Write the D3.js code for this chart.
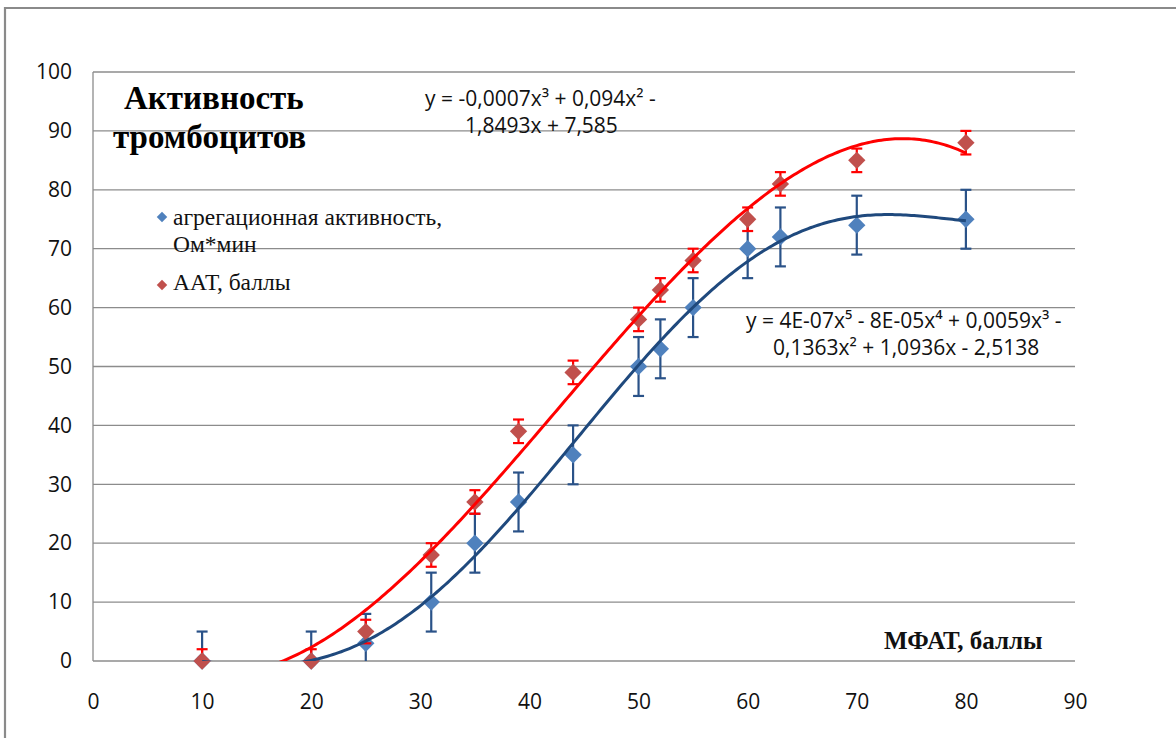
<!DOCTYPE html>
<html><head><meta charset="utf-8">
<script src="https://cdn.jsdelivr.net/npm/d3@7"></script>
<style>body{margin:0;background:#fff}svg{display:block}</style>
</head><body>
<svg id="chart" width="1176" height="738"></svg>
<script>
// ---- data ----
const xValues   = [10, 20, 25, 31, 35, 39, 44, 50, 52, 55, 60, 63, 70, 80];
const aggValues = [0, 0, 3, 10, 20, 27, 35, 50, 53, 60, 70, 72, 74, 75];
const aggErrors = [5, 5, 5, 5, 5, 5, 5, 5, 5, 5, 5, 5, 5, 5];
const aatValues = [0, 0, 5, 18, 27, 39, 49, 58, 63, 68, 75, 81, 85, 88];
const aatErrors = [2, 2, 2, 2, 2, 2, 2, 2, 2, 2, 2, 2, 2, 2];
const xTicks = [0, 10, 20, 30, 40, 50, 60, 70, 80, 90];
const yTicks = [0, 10, 20, 30, 40, 50, 60, 70, 80, 90, 100];
const seriesNames = ["агрегационная активность,", "Ом*мин", "ААТ, баллы"];
const titleLines = ["Активность", "тромбоцитов"];
const xAxisTitle = "МФАТ, баллы";
const eqAat = ["y = -0,0007x³ + 0,094x² -", "1,8493x + 7,585"];
const eqAgg = ["y = 4E-07x⁵ - 8E-05x⁴ + 0,0059x³ -", "0,1363x² + 1,0936x - 2,5138"];

// ---- layout ----
const svg = d3.select("#chart");
const L = 93, R = 1075, T = 72, B = 661;
const x = d3.scaleLinear().domain([0, 90]).range([L, R]);
const y = d3.scaleLinear().domain([0, 100]).range([B, T]);
const C = {
  aggMarker: "#4F81BD", aggLine: "#1F497D", aggErr: "#2A5288",
  aatMarker: "#C0504D", aatLine: "#FF0000", aatErr: "#FF0000",
  grid: "#8C8C8C"
};
const numFont = "'Open Sans', 'Noto Sans', sans-serif";
const serif = "'Liberation Serif', 'Times New Roman', serif";

// outer frame
svg.append("path").attr("d", "M5,738 L5,8 L1176,8").attr("fill", "none")
  .attr("stroke", "#8a8a8a").attr("stroke-width", 2.2);

// grid
svg.append("g").selectAll("line").data(yTicks).join("line")
  .attr("x1", L).attr("x2", R).attr("y1", d => y(d)).attr("y2", d => y(d))
  .attr("stroke", C.grid).attr("stroke-width", 1.3);
svg.append("line").attr("x1", L).attr("x2", L).attr("y1", T).attr("y2", B)
  .attr("stroke", C.grid).attr("stroke-width", 1.3);

// axes labels via d3 axes (no lines)
const yAxis = svg.append("g").attr("transform", `translate(${L},0)`)
  .call(d3.axisLeft(y).tickValues(yTicks).tickSize(0).tickPadding(21));
const xAxis = svg.append("g").attr("transform", `translate(0,${B})`)
  .call(d3.axisBottom(x).tickValues(xTicks).tickSize(0).tickPadding(30));
[yAxis, xAxis].forEach(g => {
  g.select(".domain").remove();
  g.selectAll("text").attr("font-family", numFont).attr("font-size", 21).attr("fill", "#111");
});
xAxis.selectAll("text").attr("dy", "0.35em").attr("y", 41);

const clipRect = svg.append("clipPath").attr("id", "plotclip2").append("rect")
  .attr("x", L).attr("y", T).attr("width", R - L).attr("height", B - T);

// least squares polynomial fit (trendline, as in the source chart)
function polyFit(xs, ys, deg) {
  const c = 45, s = 35;
  const n = deg + 1;
  const A = Array.from({length: n}, () => new Array(n + 1).fill(0));
  xs.forEach((xv, i) => {
    const t = (xv - c) / s;
    const p = [];
    for (let k = 0; k < n; k++) p.push(Math.pow(t, k));
    for (let r = 0; r < n; r++) {
      for (let q = 0; q < n; q++) A[r][q] += p[r] * p[q];
      A[r][n] += p[r] * ys[i];
    }
  });
  for (let i = 0; i < n; i++) {
    let m = i;
    for (let r = i + 1; r < n; r++) if (Math.abs(A[r][i]) > Math.abs(A[m][i])) m = r;
    [A[i], A[m]] = [A[m], A[i]];
    for (let r = 0; r < n; r++) if (r !== i) {
      const f = A[r][i] / A[i][i];
      for (let q = i; q <= n; q++) A[r][q] -= f * A[i][q];
    }
  }
  const coef = A.map((row, i) => row[n] / row[i]);
  return xv => { const t = (xv - c) / s; let v = 0; for (let k = n - 1; k >= 0; k--) v = v * t + coef[k]; return v; };
}

function series(vals, errs, markerCol, errCol, errW) {
  const g = svg.append("g").attr("clip-path", "url(#plotclip2)");
  const pts = xValues.map((xv, i) => ({x: xv, y: vals[i], e: errs[i]}));
  const eg = g.append("g").attr("stroke", errCol).attr("stroke-width", errW);
  eg.selectAll(".v").data(pts).join("line")
    .attr("x1", d => x(d.x)).attr("x2", d => x(d.x))
    .attr("y1", d => y(d.y - d.e)).attr("y2", d => y(d.y + d.e));
  eg.selectAll(".ct").data(pts).join("line")
    .attr("x1", d => x(d.x) - 5.5).attr("x2", d => x(d.x) + 5.5)
    .attr("y1", d => y(d.y + d.e)).attr("y2", d => y(d.y + d.e));
  eg.selectAll(".cb").data(pts).join("line")
    .attr("x1", d => x(d.x) - 5.5).attr("x2", d => x(d.x) + 5.5)
    .attr("y1", d => y(d.y - d.e)).attr("y2", d => y(d.y - d.e));
  const sym = d3.symbol().type(d3.symbolSquare).size(150);
  svg.append("g").selectAll("path").data(pts).join("path")
    .attr("d", sym)
    .attr("transform", d => `translate(${x(d.x)},${y(d.y)}) rotate(45)`)
    .attr("fill", markerCol);
}
series(aggValues, aggErrors, C.aggMarker, C.aggErr, 2.2);
series(aatValues, aatErrors, C.aatMarker, C.aatErr, 2.2);

// trendlines
function trend(vals, deg, col) {
  const f = polyFit(xValues, vals, deg);
  const xs = d3.range(d3.min(xValues), d3.max(xValues) + 0.001, 0.25);
  const line = d3.line().x(d => x(d)).y(d => y(f(d)));
  svg.append("g").attr("clip-path", "url(#plotclip2)").append("path")
    .attr("d", line(xs)).attr("fill", "none").attr("stroke", col).attr("stroke-width", 3);
}
trend(aggValues, 5, C.aggLine);
trend(aatValues, 3, C.aatLine);

// title
svg.append("text").attr("x", 124).attr("y", 109).text(titleLines[0])
  .attr("font-family", serif).attr("font-weight", "bold").attr("font-size", 33);
svg.append("text").attr("x", 113).attr("y", 148).text(titleLines[1])
  .attr("font-family", serif).attr("font-weight", "bold").attr("font-size", 33);

// legend
const lsym = d3.symbol().type(d3.symbolSquare).size(55);
svg.append("path").attr("d", lsym).attr("transform", "translate(162,217) rotate(45)").attr("fill", C.aggMarker);
svg.append("path").attr("d", lsym).attr("transform", "translate(162,285) rotate(45)").attr("fill", C.aatMarker);
const legT = [[173, 225, seriesNames[0]], [173, 252, seriesNames[1]], [173, 290, seriesNames[2]]];
legT.forEach(([tx, ty, s]) => svg.append("text").attr("x", tx).attr("y", ty).text(s)
  .attr("font-family", serif).attr("font-size", 23.5).attr("fill", "#111"));

// equations
const eqStyle = t => t.attr("font-family", numFont).attr("font-size", 21).attr("fill", "#111");
eqStyle(svg.append("text").attr("x", 425).attr("y", 106).text(eqAat[0]));
eqStyle(svg.append("text").attr("x", 465).attr("y", 133).text(eqAat[1]));
eqStyle(svg.append("text").attr("x", 746).attr("y", 328).text(eqAgg[0]));
eqStyle(svg.append("text").attr("x", 773).attr("y", 355).text(eqAgg[1]));

// x axis title
svg.append("text").attr("x", 884).attr("y", 649).text(xAxisTitle)
  .attr("font-family", serif).attr("font-weight", "bold").attr("font-size", 25).attr("fill", "#111");
</script>
</body></html>
